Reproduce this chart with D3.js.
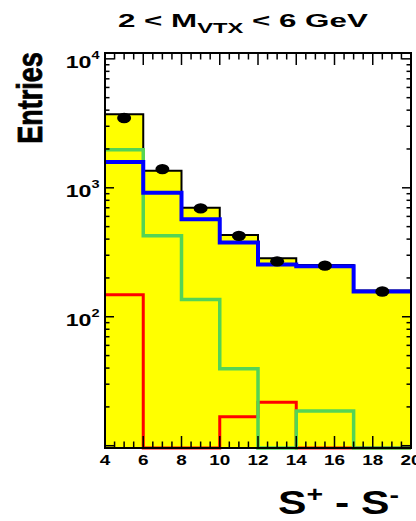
<!DOCTYPE html>
<html>
<head>
<meta charset="utf-8">
<script src="https://cdn.jsdelivr.net/npm/d3@7"></script>
<style>
  html, body { margin: 0; padding: 0; background: #fff; }
  svg { display: block; }
  text { font-family: "Liberation Sans", Arial, Helvetica, sans-serif; font-weight: bold; fill: #000; }
</style>
</head>
<body>
<script>
// Bin edges in S+ - S- (variable width: last two bins are 3 units wide)
const binEdges = [4, 6, 8, 10, 12, 14, 17, 20];
// Total expectation (yellow filled histogram)
const totalMC = [3720, 1356, 699, 431, 284, 252, 160];
// Measured entries (black points)
const dataCounts = [3480, 1397, 692, 424, 269, 249, 157];
// Individual components
const blueComp = [1584, 915, 571, 376, 254, 246, 157];
const greenComp = [1974, 424, 136, 39.5, 0, 18.6, 0];
const redComp = [148, 0, 0, 16.8, 21.7, 0, 0];
// Axis labels
const xTickValues = [4, 6, 8, 10, 12, 14, 16, 18, 20];
const yTickExponents = [2, 3, 4];

const W = 416, H = 521;
const svg = d3.select("body").append("svg").attr("width", W).attr("height", H);

const frame = { left: 105, right: 411, top: 53, bottom: 448 };
const yMin = 9.6, yMax = 11100;

const x = d3.scaleLinear().domain([4, 20]).range([frame.left, frame.right]);
const y = d3.scaleLog().domain([yMin, yMax]).range([frame.bottom, frame.top]);

// Step outline of a histogram; zero bins sit on the lower edge.
// closed=true adds the outer verticals down to the lower edge.
function stepPoints(vals, closed) {
  const yy = v => y(Math.max(v, yMin));
  const pts = [];
  if (closed) pts.push([x(binEdges[0]), y(yMin)]);
  vals.forEach((v, i) => {
    pts.push([x(binEdges[i]), yy(v)]);
    pts.push([x(binEdges[i + 1]), yy(v)]);
  });
  if (closed) pts.push([x(binEdges[binEdges.length - 1]), y(yMin)]);
  return pts;
}
const line = d3.line();

const plot = svg.append("g");

// yellow total
plot.append("path")
  .attr("d", line(stepPoints(totalMC, true)) + "Z")
  .attr("fill", "#ffff00")
  .attr("stroke", "none");
plot.append("path")
  .attr("d", line(stepPoints(totalMC, true)))
  .attr("fill", "none")
  .attr("stroke", "#000")
  .attr("stroke-width", 2);

// components
plot.append("path")
  .attr("d", line(stepPoints(redComp, false)))
  .attr("fill", "none").attr("stroke", "#ff0000").attr("stroke-width", 3);
plot.append("path")
  .attr("d", line(stepPoints(greenComp, false)))
  .attr("fill", "none").attr("stroke", "#55d455").attr("stroke-width", 3.5);
plot.append("path")
  .attr("d", line(stepPoints(blueComp, false)))
  .attr("fill", "none").attr("stroke", "#0000ff").attr("stroke-width", 4);

// data points
const centers = dataCounts.map((d, i) => (binEdges[i] + binEdges[i + 1]) / 2);
plot.selectAll("ellipse.pt")
  .data(dataCounts)
  .join("ellipse")
  .attr("class", "pt")
  .attr("cx", (d, i) => x(centers[i]))
  .attr("cy", d => y(d))
  .attr("rx", 7)
  .attr("ry", 5.2)
  .attr("fill", "#000");

// frame
const axes = svg.append("g").attr("stroke", "#000").attr("fill", "none");
axes.append("rect")
  .attr("x", frame.left).attr("y", frame.top)
  .attr("width", frame.right - frame.left)
  .attr("height", frame.bottom - frame.top)
  .attr("stroke-width", 2);

// x ticks (inside, bottom and top)
const xMinor = d3.range(4, 20.001, 0.5);
xMinor.forEach(v => {
  const major = Math.abs(v / 2 - Math.round(v / 2)) < 1e-6;
  const len = major ? 12 : 6.5;
  const px = x(v);
  axes.append("line").attr("x1", px).attr("x2", px)
    .attr("y1", frame.bottom).attr("y2", frame.bottom - len).attr("stroke-width", 1.5);
  axes.append("line").attr("x1", px).attr("x2", px)
    .attr("y1", frame.top).attr("y2", frame.top + len).attr("stroke-width", 1.5);
});

// y ticks (log, inside, left and right)
const yTicks = [];
for (let e = 1; e <= 4; e++) {
  for (let m = 1; m <= 9; m++) {
    const val = m * Math.pow(10, e);
    if (val >= yMin && val <= yMax) yTicks.push({ v: val, major: m === 1 });
  }
}
yTicks.forEach(t => {
  const py = y(t.v);
  const len = t.major ? 9 : 4.5;
  axes.append("line").attr("x1", frame.left).attr("x2", frame.left + len)
    .attr("y1", py).attr("y2", py).attr("stroke-width", 1.5);
  axes.append("line").attr("x1", frame.right).attr("x2", frame.right - len)
    .attr("y1", py).attr("y2", py).attr("stroke-width", 1.5);
});

// x tick labels
const sxTick = 1.35;
svg.selectAll("text.xtick")
  .data(xTickValues)
  .join("text")
  .attr("class", "xtick")
  .attr("text-anchor", "middle")
  .attr("font-size", 14)
  .attr("transform", d => `translate(${x(d)},465) scale(${sxTick},1)`)
  .text(d => d);

// y tick labels: 10^n
yTickExponents.forEach(n => {
  const t = svg.append("text")
    .attr("text-anchor", "end")
    .attr("font-size", 16.8)
    .attr("transform", `translate(99.5,${y(Math.pow(10, n)) + 8.8}) scale(1.38,1)`);
  t.append("tspan").text("10");
  t.append("tspan").attr("font-size", 10.5).attr("dy", -9).text(n);
});

// title
const title = svg.append("text")
  .attr("font-size", 18.5)
  .attr("text-anchor", "start");
title.append("tspan").text("2 < M");
title.append("tspan").attr("font-size", 14).attr("dy", 6).text("VTX");
title.append("tspan").attr("dy", -6).text(" < 6 GeV");
function fitWidth(sel, x0, yb, target) {
  const w = sel.node().getBBox().width;
  sel.attr("transform", `translate(${x0},${yb}) scale(${target / w},1)`);
}
fitWidth(title, 118, 27, 251);

// y axis title
svg.append("text")
  .attr("font-size", 27)
  .attr("text-anchor", "middle")
  .attr("stroke", "#000").attr("stroke-width", 0.6)
  .attr("transform", "translate(42,98) scale(1.28,1) rotate(-90)")
  .text("Entries");

// x axis title
const xt = svg.append("text").attr("font-size", 33).attr("text-anchor", "start");
xt.append("tspan").text("S");
xt.append("tspan").attr("font-size", 22).attr("dy", -12).text("+");
xt.append("tspan").attr("dy", 12).text(" - S");
xt.append("tspan").attr("font-size", 22).attr("dy", -12).text("-");
fitWidth(xt, 278, 513.8, 121);
</script>
</body>
</html>
